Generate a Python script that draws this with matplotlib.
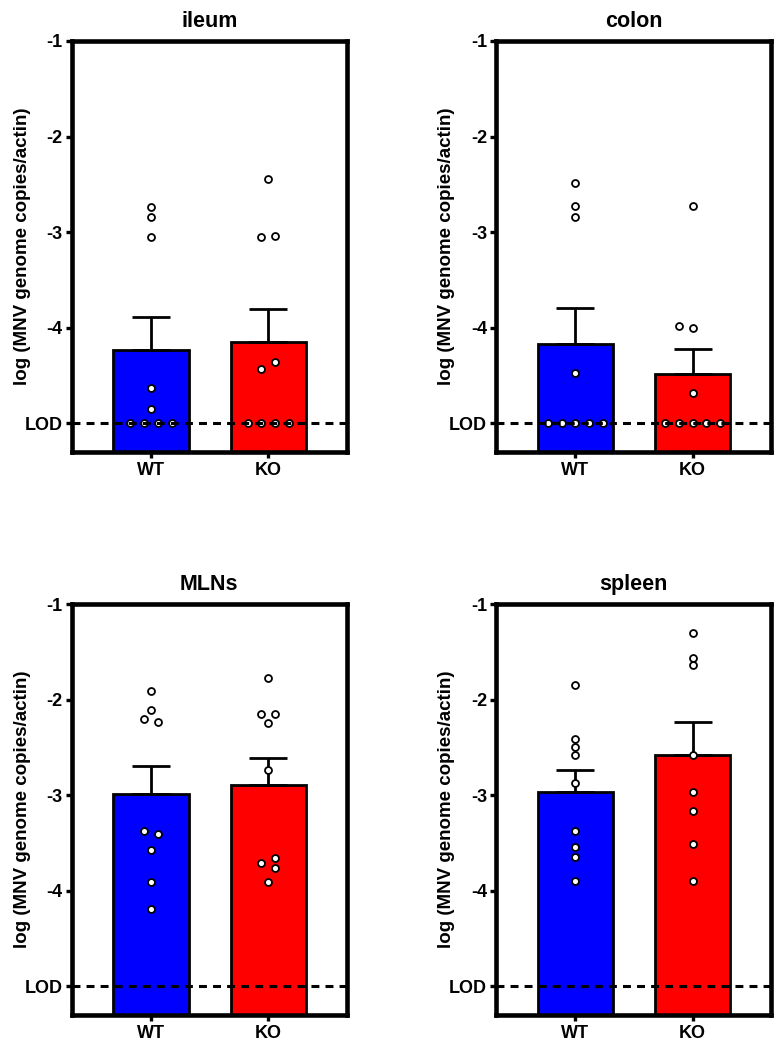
import numpy as np
import matplotlib
matplotlib.use('Agg')
import matplotlib.pyplot as plt

plt.rcParams['font.family'] = ['Liberation Sans', 'DejaVu Sans']
plt.rcParams['font.weight'] = 'bold'

# ---------------- data ----------------
groups = ['WT', 'KO']
panel_titles = ['ileum', 'colon', 'MLNs', 'spleen']
ylabel_text = 'log (MNV genome copies/actin)'
ytick_values = [-5, -4, -3, -2, -1]
ytick_labels = ['LOD', '-4', '-3', '-2', '-1']
lod_value = -5

ileum_wt = [-2.74, -2.84, -3.05, -4.63, -4.85, -5, -5, -5, -5]
ileum_ko = [-2.44, -3.05, -3.04, -4.43, -4.36, -5, -5, -5, -5]
colon_wt = [-2.49, -2.73, -2.84, -4.47, -5, -5, -5, -5, -5]
colon_ko = [-2.73, -3.98, -4.00, -4.68, -5, -5, -5, -5, -5]
mlns_wt = [-1.91, -2.11, -2.20, -2.23, -3.37, -3.41, -3.57, -3.91, -4.19]
mlns_ko = [-1.77, -2.15, -2.15, -2.24, -2.74, -3.66, -3.71, -3.76, -3.91]
spleen_wt = [-1.85, -2.41, -2.50, -2.58, -2.87, -3.38, -3.54, -3.65, -3.90]
spleen_ko = [-1.30, -1.56, -1.64, -2.58, -2.97, -3.17, -3.51, -3.90]

# scatter slot (side-by-side placement of overlapping points, half-spacing units)
ileum_wt_slot = [0, 0, 0, 0, 0, -3, -1, 1, 3]
ileum_ko_slot = [0, -1, 1, -1, 1, -3, -1, 1, 3]
colon_wt_slot = [0, 0, 0, 0, -4, -2, 0, 2, 4]
colon_ko_slot = [0, -2, 0, 0, -4, -2, 0, 2, 4]
mlns_wt_slot = [0, 0, -1, 1, -1, 1, 0, 0, 0]
mlns_ko_slot = [0, -1, 1, 0, 0, 1, -1, 1, 0]
spleen_wt_slot = [0] * len(spleen_wt)
spleen_ko_slot = [0] * len(spleen_ko)

panels = [
    (ileum_wt, ileum_ko, ileum_wt_slot, ileum_ko_slot),
    (colon_wt, colon_ko, colon_wt_slot, colon_ko_slot),
    (mlns_wt, mlns_ko, mlns_wt_slot, mlns_ko_slot),
    (spleen_wt, spleen_ko, spleen_wt_slot, spleen_ko_slot),
]
bar_colors = ['#0000FF', '#FF0000']

# ---------------- layout ----------------
W, H = 781, 1050
fig = plt.figure(figsize=(W / 100, H / 100), dpi=100)

ax_w = 275 / W
ax_h = 411 / H
lefts = [71.7 / W, 496 / W]
bottoms = [1 - 452 / H, 1 - 1015 / H]
positions = [(lefts[0], bottoms[0]), (lefts[1], bottoms[0]),
             (lefts[0], bottoms[1]), (lefts[1], bottoms[1])]

ylo, yhi = -5.3, -1
half_step = 0.0584
xs = np.arange(len(groups))

for (x0, y0), title, (wt, ko, swt, sko) in zip(positions, panel_titles, panels):
    ax = fig.add_axes([x0, y0, ax_w, ax_h])
    for xi, vals, slots, col in zip(xs, [wt, ko], [swt, sko], bar_colors):
        v = np.asarray(vals, dtype=float)
        m = v.mean()
        sem = v.std(ddof=1) / np.sqrt(len(v))
        ax.bar(xi, m - ylo, bottom=ylo, width=0.64, color=col,
               edgecolor='black', linewidth=2.0, zorder=2)
        ax.errorbar(xi, m, yerr=[[0], [sem]], fmt='none', ecolor='black',
                    elinewidth=2.0, capsize=13.5, capthick=2.0, zorder=3)
        ax.plot(xi + np.asarray(slots) * half_step, v, 'o', mfc='white',
                mec='black', ms=5.0, mew=1.3, zorder=4, clip_on=False)
    ax.axhline(lod_value, color='black', lw=2.2, linestyle=(0, (2.6, 2.0)),
               zorder=5)
    ax.set_xlim(-0.676, 1.668)
    ax.set_ylim(ylo, yhi)
    ax.set_yticks(ytick_values)
    ax.set_yticklabels(ytick_labels)
    ax.set_xticks(xs)
    ax.set_xticklabels(groups)
    for sp in ax.spines.values():
        sp.set_linewidth(3.3)
        sp.set_zorder(6)
    ax.tick_params(axis='both', direction='out', length=4, width=2.4)
    ax.tick_params(axis='y', labelsize=13, pad=2.5)
    ax.tick_params(axis='x', labelsize=13, pad=3)
    ax.set_title(title, fontsize=15.5, fontweight='bold', pad=10)
    ax.set_ylabel(ylabel_text, fontsize=13.5, fontweight='bold')
    ax.yaxis.set_label_coords(-0.148, 0.5)

fig.savefig('out.png', dpi=100)
